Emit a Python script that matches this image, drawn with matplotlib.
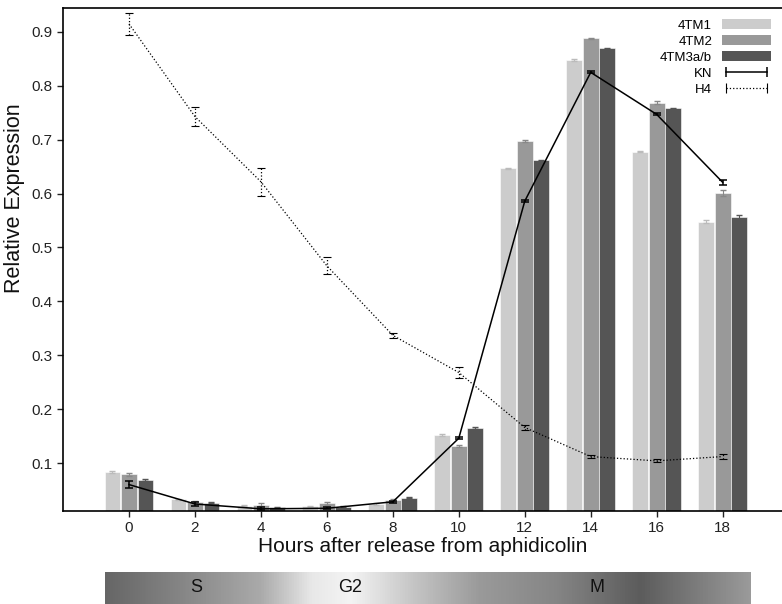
import matplotlib
matplotlib.use("Agg")
import matplotlib.pyplot as plt
import numpy as np
from matplotlib.colors import LinearSegmentedColormap
from matplotlib.lines import Line2D
from matplotlib.patches import Patch

plt.rcParams['font.family'] = ['Liberation Sans', 'DejaVu Sans']

hours = [0, 2, 4, 6, 8, 10, 12, 14, 16, 18]
tm1 = [0.084, 0.033, 0.021, 0.020, 0.024, 0.152, 0.647, 0.848, 0.678, 0.548]
tm2 = [0.079, 0.027, 0.023, 0.025, 0.032, 0.131, 0.697, 0.888, 0.769, 0.601]
tm3 = [0.069, 0.026, 0.018, 0.019, 0.036, 0.165, 0.662, 0.870, 0.758, 0.557]
tm1_err = [0.002, 0.001, 0.001, 0.001, 0.001, 0.001, 0.001, 0.001, 0.001, 0.003]
tm2_err = [0.003, 0.002, 0.002, 0.002, 0.002, 0.002, 0.002, 0.001, 0.002, 0.005]
tm3_err = [0.002, 0.001, 0.001, 0.001, 0.001, 0.001, 0.001, 0.001, 0.001, 0.004]
kn = [0.060, 0.024, 0.015, 0.016, 0.028, 0.146, 0.586, 0.825, 0.747, 0.621]
kn_err = [0.006, 0.004, 0.003, 0.002, 0.002, 0.002, 0.002, 0.002, 0.002, 0.005]
h4 = [0.915, 0.743, 0.622, 0.466, 0.337, 0.268, 0.166, 0.112, 0.104, 0.112]
h4_err = [0.020, 0.018, 0.026, 0.016, 0.005, 0.010, 0.004, 0.003, 0.003, 0.004]

xticks = [0, 2, 4, 6, 8, 10, 12, 14, 16, 18]
yticks = [0.1, 0.2, 0.3, 0.4, 0.5, 0.6, 0.7, 0.8, 0.9]
series_labels = ['4TM1', '4TM2', '4TM3a/b', 'KN', 'H4']
phase_labels = ["S", "G2", "M"]
phase_pos = [0.142, 0.380, 0.762]

fig = plt.figure(figsize=(7.82, 6.04), dpi=100)
ax = fig.add_axes([0.0806, 0.154, 0.9194, 0.8328])

x = np.array(hours, dtype=float)
w = 0.48
off = 0.5
colors = ['#cccccc', '#999999', '#555555']
ecolors = ['#bbbbbb', '#888888', '#555555']
for vals, errs, dx, c, ec in zip([tm1, tm2, tm3], [tm1_err, tm2_err, tm3_err], [-off, 0, off],
                                 colors, ecolors):
    ax.bar(x + dx, vals, w, color=c, edgecolor='white', linewidth=0.4,
           yerr=errs, error_kw=dict(ecolor=ec, capsize=2, elinewidth=0.8), zorder=2)

ax.errorbar(x, kn, yerr=kn_err, color='black', lw=1.1, capsize=3, capthick=1.1, zorder=4)
eb = ax.errorbar(x, h4, yerr=h4_err, color='black', lw=0.9, ls=':', capsize=3, capthick=0.8,
                 zorder=4)
for bl in eb[2]:
    bl.set_linestyle(':')

ax.set_xlim(-2, 19.8)
ax.set_ylim(0.011, 0.9445)
ax.set_xticks(xticks)
ax.set_yticks(yticks)
ax.set_yticklabels([f"{v:.1f}" for v in yticks])
ax.tick_params(axis='both', labelsize=11, direction='out', length=4, width=1, colors='#222222',
               labelcolor='#222222')
ax.tick_params(axis='x', pad=3)
ax.spines['right'].set_visible(False)
for s in ['top', 'bottom', 'left']:
    ax.spines[s].set_linewidth(1.2)
ax.set_xlabel("Hours after release from aphidicolin", fontsize=15, color='#111111', labelpad=2)
ax.set_ylabel("Relative Expression", fontsize=15.5, color='#111111')
ax.yaxis.set_label_coords(-0.053, 0.622)

handles = [Patch(facecolor=colors[0]), Patch(facecolor=colors[1]), Patch(facecolor=colors[2]),
           Line2D([0], [0], color='black', lw=1.1, marker='|', markersize=7, mew=1.1),
           Line2D([0], [0], color='black', lw=0.9, ls=':', marker='|', markersize=7, mew=0.8)]
leg = ax.legend(handles, series_labels, loc='upper right', frameon=False, markerfirst=False,
                fontsize=9.5, numpoints=2, handlelength=3.7, handleheight=0.75,
                labelspacing=0.28, borderaxespad=0.55, borderpad=0.3, handletextpad=0.75)

# phase gradient bar
gax = fig.add_axes([0.1343, 0.0, 0.825, 0.053])
stops = [(0.0, '#666666'), (0.14, '#8c8c8c'), (0.24, '#aaaaaa'), (0.32, '#e8e8e8'),
         (0.38, '#f4f4f4'), (0.48, '#c4c4c4'), (0.58, '#9a9a9a'), (0.70, '#858585'),
         (0.83, '#5c5c5c'), (1.0, '#9a9a9a')]
cmap = LinearSegmentedColormap.from_list('phase', stops)
grad = np.linspace(0, 1, 512).reshape(1, -1)
gax.imshow(grad, aspect='auto', cmap=cmap, extent=[0, 1, 0, 1])
gax.set_xlim(0, 1)
gax.set_ylim(0, 1)
gax.axis('off')
for lab, p in zip(phase_labels, phase_pos):
    gax.text(p, 0.5, lab, ha='center', va='center', fontsize=13, color='#111111')

fig.savefig('out.png', dpi=100)
